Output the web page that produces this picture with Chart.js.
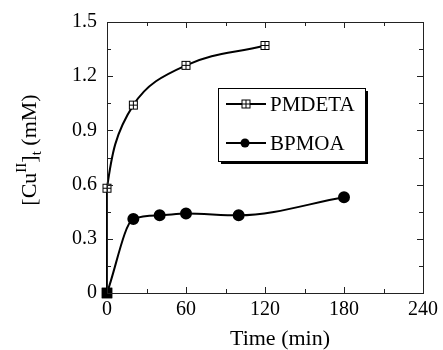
<!DOCTYPE html>
<html>
<head>
<meta charset="utf-8">
<script src="https://cdn.jsdelivr.net/npm/chart.js@4/dist/chart.umd.min.js"></script>
<style>
  html, body { margin: 0; padding: 0; background: #fff; }
  #wrap { width: 443px; height: 350px; }
</style>
</head>
<body>
<div id="wrap"><canvas id="cuChart" width="443" height="350"></canvas></div>
<script>
(function() {
    'use strict';

    // Data
    var pmdetaTime = [0, 0, 20, 60, 120];
    var pmdetaCu = [0, 0.58, 1.04, 1.26, 1.37];
    var bpmoaTime = [0, 20, 40, 60, 100, 180];
    var bpmoaCu = [0, 0.41, 0.43, 0.44, 0.43, 0.53];

    var xTicks = [0, 60, 120, 180, 240];
    var yTicks = [0, 0.3, 0.6, 0.9, 1.2, 1.5];
    var seriesNames = ['PMDETA', 'BPMOA'];

    var SERIF = '"Liberation Serif", "DejaVu Serif", serif';

    function toPoints(xs, ys) {
        return xs.map(function(x, i) { return { x: x, y: ys[i] }; });
    }

    // Square with a cross inside (open, white filled)
    function crossSquare() {
        var c = document.createElement('canvas');
        c.width = 11;
        c.height = 11;
        var g = c.getContext('2d');
        g.fillStyle = '#fff';
        g.fillRect(1, 1, 9, 9);
        g.strokeStyle = '#000';
        g.lineWidth = 1;
        g.strokeRect(1.5, 1.5, 8, 8);
        g.beginPath();
        g.moveTo(5.5, 2);
        g.lineTo(5.5, 9);
        g.moveTo(2, 5.5);
        g.lineTo(9, 5.5);
        g.stroke();
        return c;
    }
    var squareMark = crossSquare();

    var pmdetaStyles = pmdetaTime.map(function(t, i) { return i === 0 ? 'rect' : squareMark; });
    var bpmoaStyles = bpmoaTime.map(function(t, i) { return i === 0 ? 'rect' : 'circle'; });

    var framePlugin = {
        id: 'frame',
        afterDatasetsDraw: function(chart) {
            var ctx = chart.ctx;
            var a = chart.chartArea;
            var xs = chart.scales.x;
            var ys = chart.scales.y;
            ctx.save();

            // box
            ctx.strokeStyle = '#222';
            ctx.lineWidth = 1;
            ctx.strokeRect(Math.round(a.left) + 0.5, Math.round(a.top) + 0.5,
                Math.round(a.right - a.left), Math.round(a.bottom - a.top));

            // inward ticks
            ctx.beginPath();
            var v, p, len;
            for (v = 0; v <= 240; v += 30) {
                p = Math.round(xs.getPixelForValue(v)) + 0.5;
                len = v % 60 === 0 ? 6 : 4;
                ctx.moveTo(p, a.bottom);
                ctx.lineTo(p, a.bottom - len);
                ctx.moveTo(p, a.top);
                ctx.lineTo(p, a.top + len);
            }
            for (var k = 0; k <= 10; k++) {
                v = k * 0.15;
                p = Math.round(ys.getPixelForValue(v)) + 0.5;
                len = k % 2 === 0 ? 6 : 4;
                ctx.moveTo(a.left, p);
                ctx.lineTo(a.left + len, p);
                ctx.moveTo(a.right, p);
                ctx.lineTo(a.right - len, p);
            }
            ctx.stroke();

            // legend box with shadow
            var lx = 218, ly = 88, lw = 147, lh = 73;
            ctx.fillStyle = '#000';
            ctx.fillRect(lx + 3, ly + 3, lw, lh);
            ctx.fillStyle = '#fff';
            ctx.fillRect(lx, ly, lw, lh);
            ctx.strokeStyle = '#000';
            ctx.lineWidth = 1;
            ctx.strokeRect(lx + 0.5, ly + 0.5, lw, lh);

            var rows = [104, 143];
            ctx.lineWidth = 2;
            rows.forEach(function(ry, i) {
                ctx.beginPath();
                ctx.moveTo(226, ry);
                ctx.lineTo(266, ry);
                ctx.stroke();
                if (i === 0) {
                    ctx.drawImage(squareMark, 246 - 5.5, ry - 5.5);
                } else {
                    ctx.beginPath();
                    ctx.arc(245, ry, 4.5, 0, Math.PI * 2);
                    ctx.fillStyle = '#000';
                    ctx.fill();
                }
                ctx.fillStyle = '#000';
                ctx.font = '21px ' + SERIF;
                ctx.textAlign = 'left';
                ctx.textBaseline = 'middle';
                ctx.fillText(seriesNames[i], 270, ry + 1);
            });

            // axis titles
            ctx.fillStyle = '#000';
            ctx.font = '22px ' + SERIF;
            ctx.textAlign = 'center';
            ctx.textBaseline = 'middle';
            ctx.fillText('Time (min)', 280, 339);

            // y title: [Cu^II]_t (mM), rotated
            ctx.translate(36, 150);
            ctx.rotate(-Math.PI / 2);
            ctx.textBaseline = 'alphabetic';
            ctx.textAlign = 'left';
            var parts = [
                { t: '[Cu', s: 22, dy: 0 },
                { t: 'II', s: 15, dy: -10 },
                { t: ']', s: 22, dy: 0 },
                { t: 't', s: 15, dy: 5 },
                { t: ' (mM)', s: 22, dy: 0 }
            ];
            var total = 0;
            parts.forEach(function(pt) {
                ctx.font = pt.s + 'px ' + SERIF;
                pt.w = ctx.measureText(pt.t).width;
                total += pt.w;
            });
            var cx = -total / 2;
            parts.forEach(function(pt) {
                ctx.font = pt.s + 'px ' + SERIF;
                ctx.fillText(pt.t, cx, pt.dy);
                cx += pt.w;
            });
            ctx.restore();
        }
    };

    new Chart(document.getElementById('cuChart'), {
        type: 'scatter',
        data: {
            datasets: [{
                label: seriesNames[0],
                data: toPoints(pmdetaTime, pmdetaCu),
                showLine: true,
                borderColor: '#000',
                backgroundColor: '#000',
                borderWidth: 2,
                tension: 0.4,
                pointStyle: pmdetaStyles,
                pointRadius: [6, 5, 5, 5, 5],
                clip: false
            }, {
                label: seriesNames[1],
                data: toPoints(bpmoaTime, bpmoaCu),
                showLine: true,
                borderColor: '#000',
                backgroundColor: '#000',
                borderWidth: 2,
                cubicInterpolationMode: 'monotone',
                pointStyle: bpmoaStyles,
                pointRadius: [6, 5, 5, 5, 5, 5],
                clip: false
            }]
        },
        options: {
            responsive: false,
            animation: false,
            events: [],
            layout: { padding: { top: 20, right: 18, left: 0, bottom: 0 } },
            plugins: {
                legend: { display: false },
                tooltip: { enabled: false }
            },
            scales: {
                x: {
                    type: 'linear',
                    min: 0,
                    max: 240,
                    afterBuildTicks: function(scale) {
                        scale.ticks = xTicks.map(function(v) { return { value: v }; });
                    },
                    afterFit: function(scale) { scale.height = 57; },
                    grid: { display: false, drawTicks: false },
                    border: { display: false },
                    ticks: {
                        color: '#000',
                        padding: 5,
                        font: { family: SERIF, size: 20 },
                        maxRotation: 0
                    }
                },
                y: {
                    type: 'linear',
                    min: 0,
                    max: 1.5,
                    afterBuildTicks: function(scale) {
                        scale.ticks = yTicks.map(function(v) { return { value: v }; });
                    },
                    afterFit: function(scale) { scale.width = 107; },
                    grid: { display: false, drawTicks: false },
                    border: { display: false },
                    ticks: {
                        color: '#000',
                        padding: 10,
                        font: { family: SERIF, size: 20 },
                        callback: function(v) { return v === 0 ? '0' : v.toFixed(1); }
                    }
                }
            }
        },
        plugins: [framePlugin]
    });
})();
</script>
</body>
</html>
